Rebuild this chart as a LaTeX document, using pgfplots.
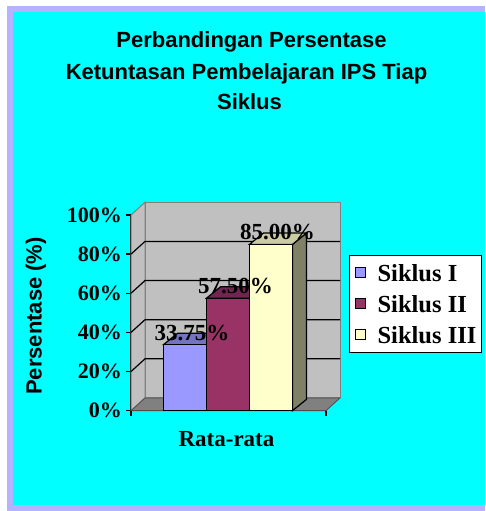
\documentclass[border=0pt]{standalone}
\usepackage{pgfplots}
\pgfplotsset{compat=1.18}
\usepackage{fontspec}
\setmainfont{Liberation Serif}
\newfontfamily\arial{Liberation Sans}
\definecolor{bgcyan}{HTML}{00FFFF}
\definecolor{borderblue}{HTML}{B3B3FF}
\definecolor{wallgray}{HTML}{C0C0C0}
\definecolor{floorgray}{HTML}{808080}
\definecolor{barI}{HTML}{9999FF}
\definecolor{barItop}{HTML}{7373C4}
\definecolor{barII}{HTML}{993366}
\definecolor{barIItop}{HTML}{702650}
\definecolor{barIII}{HTML}{FFFFCC}
\definecolor{barIIItop}{HTML}{CCCCA3}
\definecolor{barIIIside}{HTML}{808066}
\begin{document}
\begin{tikzpicture}
\begin{scope}[x=1pt,y=1pt]
\useasboundingbox (0,0) rectangle (485,511);
\fill[white] (0,0) rectangle (485,511);
\fill[borderblue] (7,0) rectangle (485,505);
\fill[bgcyan] (13,6) rectangle (485,499);
\node[anchor=base, inner sep=0pt, font=\arial\bfseries\fontsize{22}{26}\selectfont] at (251.5,463.3) {Perbandingan Persentase};
\node[anchor=base, inner sep=0pt, font=\arial\bfseries\fontsize{22}{26}\selectfont] at (246.5,431.7) {Ketuntasan Pembelajaran IPS Tiap};
\node[anchor=base, inner sep=0pt, font=\arial\bfseries\fontsize{22}{26}\selectfont] at (249.5,401) {Siklus};
\node[rotate=90, inner sep=0pt, font=\arial\bfseries\fontsize{22}{26}\selectfont] at (36,195) {Persentase (\%)};
\end{scope}
\begin{axis}[
  at={(131pt,100.3pt)}, anchor=south west,
  scale only axis, width=195pt, height=195.7pt,
  xmin=0, xmax=195, ymin=0, ymax=100,
  clip=false,
  axis lines=left, axis line style={-, black, line width=1.3pt},
  ytick={0,20,40,60,80,100},
  yticklabels={0\%,20\%,40\%,60\%,80\%,100\%},
  tick align=outside, major tick length=5pt,
  y tick style={black, line width=1.3pt},
  yticklabel style={anchor=east, inner sep=0pt, xshift=-4pt, font=\bfseries\fontsize{22}{22}\selectfont},
  xtick={95.5}, xticklabels={Rata-rata},
  x tick style={draw=none},
  xticklabel style={anchor=base, inner sep=0pt, yshift=-31.3pt, font=\bfseries\fontsize{23}{23}\selectfont},
  legend style={at={(1.118,0.7956)}, anchor=north west, draw=black, line width=1.2pt, fill=white,
    font=\bfseries\fontsize{24.5}{24.5}\selectfont, inner xsep=5pt, inner ysep=9pt, row sep=14pt,
    nodes={inner sep=0pt, text height=17pt, text depth=0pt},
    cells={anchor=base west},
    /tikz/every odd column/.append style={column sep=12pt}},
  legend image code/.code={\draw[#1, draw=black, line width=1pt] (0pt,4pt) rectangle (10pt,14pt);},
]
% walls and floor
\addplot[forget plot, fill=wallgray, draw=floorgray, line width=1pt] coordinates {(14,6.5) (209,6.5) (209,106.5) (14,106.5)} --cycle;
\addplot[forget plot, fill=wallgray, draw=floorgray, line width=1pt] coordinates {(0,0) (14,6.5) (14,106.5) (0,100)} --cycle;
\addplot[forget plot, fill=floorgray, draw=floorgray!60!black, line width=0.8pt] coordinates {(0,0) (195,0) (209,6.5) (14,6.5)} --cycle;
% gridlines on back wall and side wall
\addplot[forget plot, black, line width=1.2pt] coordinates {(0,20) (14,26.5) (209,26.5)};
\addplot[forget plot, black, line width=1.2pt] coordinates {(0,40) (14,46.5) (209,46.5)};
\addplot[forget plot, black, line width=1.2pt] coordinates {(0,60) (14,66.5) (209,66.5)};
\addplot[forget plot, black, line width=1.2pt] coordinates {(0,80) (14,86.5) (209,86.5)};
% end ticks of x axis
\addplot[forget plot, black, line width=1.3pt] coordinates {(0,0) (0,-2.6)};
\addplot[forget plot, black, line width=1.3pt] coordinates {(195,0) (195,-2.6)};
% Siklus I
\addplot[forget plot, fill=barItop, draw=black, line width=1.2pt] coordinates {(32.5,33.75) (75.5,33.75) (89.5,39.55) (46.5,39.55)} --cycle;
\addplot[ybar, bar width=43, bar shift=0pt, fill=barI, draw=black, line width=1.2pt] coordinates {(54,33.75)};
\addlegendentry{Siklus I}
% Siklus II
\addplot[forget plot, fill=barIItop, draw=black, line width=1.2pt] coordinates {(75.5,57.5) (118.5,57.5) (132.5,63.3) (89.5,63.3)} --cycle;
\addplot[ybar, bar width=43, bar shift=0pt, fill=barII, draw=black, line width=1.2pt] coordinates {(97,57.5)};
\addlegendentry{Siklus II}
% Siklus III
\addplot[forget plot, fill=barIIIside, draw=black, line width=1.2pt] coordinates {(161.5,0) (175.5,5.8) (175.5,90.8) (161.5,85)} --cycle;
\addplot[forget plot, fill=barIIItop, draw=black, line width=1.2pt] coordinates {(118.5,85) (161.5,85) (175.5,90.8) (132.5,90.8)} --cycle;
\addplot[ybar, bar width=43, bar shift=0pt, fill=barIII, draw=black, line width=1.2pt] coordinates {(140,85)};
\addlegendentry{Siklus III}
% data labels
\addplot[forget plot, draw=none, nodes near coords, point meta=explicit symbolic,
  every node near coord/.append style={anchor=base, inner sep=0pt, yshift=4.5pt, black, font=\bfseries\fontsize{23}{23}\selectfont}]
  coordinates {(61,33.75) [33.75\%] (104.5,57.5) [57.50\%] (146.5,85) [85.00\%]};
\end{axis}
\end{tikzpicture}
\end{document}
